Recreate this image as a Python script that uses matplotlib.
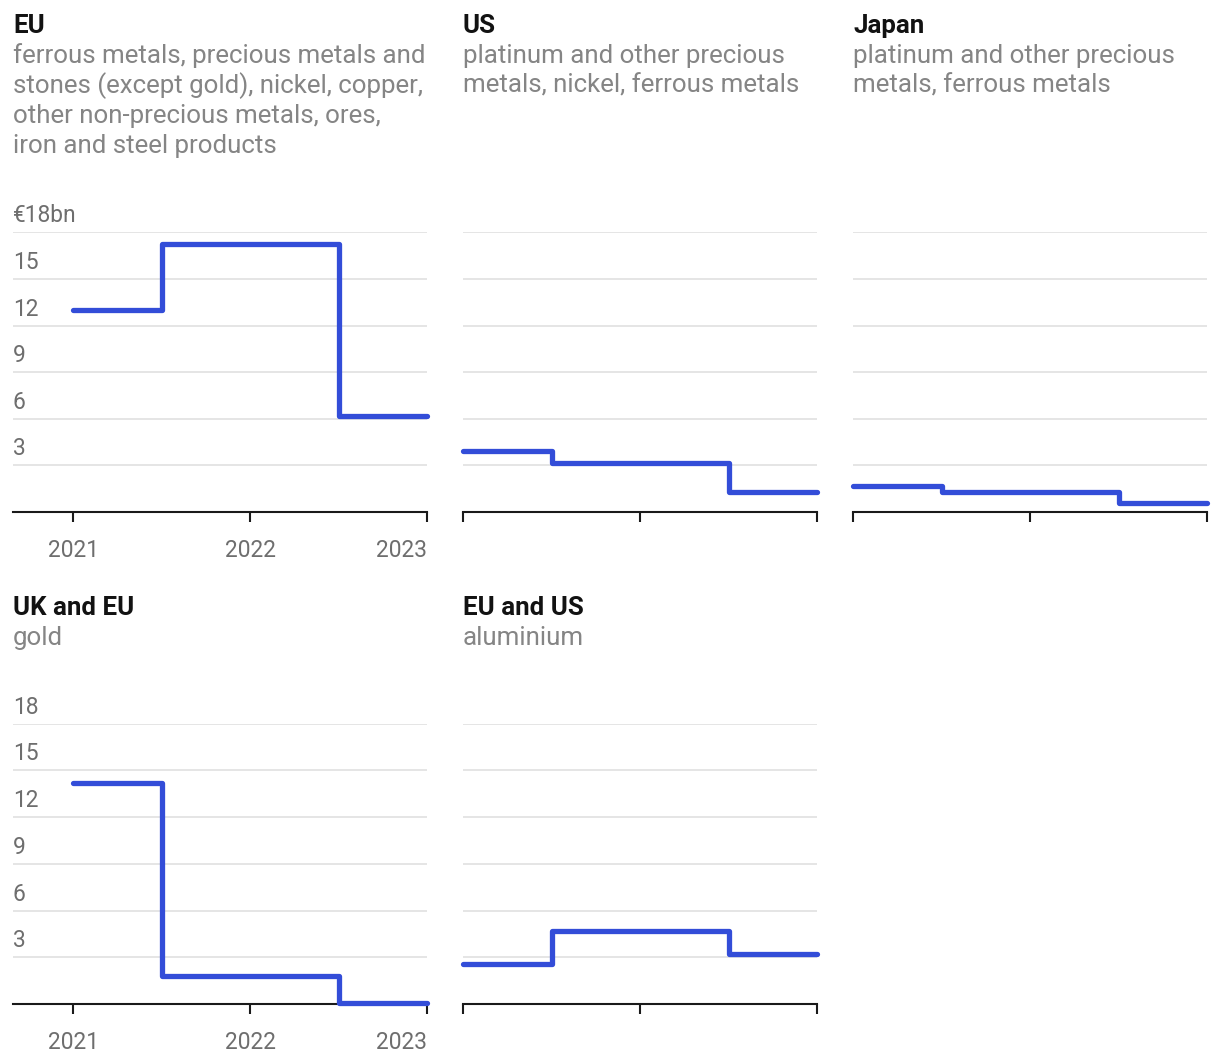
import matplotlib
matplotlib.use("Agg")
import matplotlib.pyplot as plt
from matplotlib.transforms import offset_copy

plt.rcParams['font.family'] = ['Roboto', 'DejaVu Sans']

# ---- data ----
years = [2021, 2022, 2023]
eu = [13.0, 17.25, 6.2]
us = [3.95, 3.13, 1.29]
japan = [1.67, 1.29, 0.6]
uk_eu = [14.2, 1.8, 0.05]
eu_us = [2.55, 4.68, 3.2]

titles = ["EU", "US", "Japan", "UK and EU", "EU and US"]
subtitles = [
    ["ferrous metals, precious metals and",
     "stones (except gold), nickel, copper,",
     "other non-precious metals, ores,",
     "iron and steel products"],
    ["platinum and other precious", "metals, nickel, ferrous metals"],
    ["platinum and other precious", "metals, ferrous metals"],
    ["gold"],
    ["aluminium"],
]
series = [eu, us, japan, uk_eu, eu_us]
yticks = [3, 6, 9, 12, 15, 18]
ytick_labels_top = ["3", "6", "9", "12", "15", "€18bn"]
ytick_labels_bottom = ["3", "6", "9", "12", "15", "18"]
xtick_labels = ["2021", "2022", "2023"]

W, H = 1220, 1064
fig = plt.figure(figsize=(W / 100, H / 100), dpi=100)

LINE = "#334dd8"
GRID = "#e5e5e5"
AXC = "#1a1a1a"
TITLEC = "#121212"
SUBC = "#858585"
TICKC = "#6e6e6e"
FS = 16.4
FS_HEAD = 18.6


def rect(x0, y_top, x1, y_bot):
    return [x0 / W, 1 - y_bot / H, (x1 - x0) / W, (y_bot - y_top) / H]


# panel geometry: (x0, x1, ytop, ybot, title_baseline, left_col)
panels = [
    (13, 427, 232.3, 512, 33, True),
    (463, 817, 232.3, 512, 33, False),
    (853, 1207, 232.3, 512, 33, False),
    (13, 427, 723.7, 1004, 615, True),
    (463, 817, 723.7, 1004, 615, False),
]

for i, (x0, x1, yt, yb, tb, leftcol) in enumerate(panels):
    ax = fig.add_axes(rect(x0, yt, x1, yb))
    left = 2021 - 60.4 / 177.2 if leftcol else 2021
    ax.set_xlim(left, 2023)
    ax.set_ylim(0, 18)
    for s in ["top", "left", "right"]:
        ax.spines[s].set_visible(False)
    ax.spines["bottom"].set_color(AXC)
    ax.spines["bottom"].set_linewidth(1.5)
    ax.set_yticks(yticks)
    ax.yaxis.grid(True, color=GRID, linewidth=1.4)
    ax.tick_params(axis="y", length=0, labelleft=False)
    ax.set_axisbelow(True)
    ax.set_xticks(years)
    ax.tick_params(axis="x", length=7.5, width=1.5, color=AXC)
    if leftcol:
        ax.set_xticklabels(xtick_labels)
        ax.tick_params(axis="x", labelsize=FS, labelcolor=TICKC, pad=12)
        ax.get_xticklabels()[-1].set_ha("right")
    else:
        ax.set_xticklabels([])

    ax.step(years, series[i], where="mid", color=LINE, linewidth=3.8,
            solid_capstyle="round", solid_joinstyle="round", clip_on=False,
            zorder=3)

    if leftcol:
        labs = ytick_labels_top if i < 3 else ytick_labels_bottom
        tr = offset_copy(ax.get_yaxis_transform(), fig=fig, x=0, y=10, units="dots")
        for v, lab in zip(yticks, labs):
            ax.text(0, v, lab, transform=tr, ha="left", va="baseline",
                    fontsize=FS, color=TICKC)

    fig.text(x0 / W, 1 - tb / H, titles[i], ha="left", va="baseline",
             fontsize=FS_HEAD, fontweight="bold", color=TITLEC)
    for k, line in enumerate(subtitles[i]):
        fig.text(x0 / W, 1 - (tb + 30 * (k + 1)) / H, line, ha="left",
                 va="baseline", fontsize=FS_HEAD, color=SUBC)

fig.savefig("out.png", dpi=100)
